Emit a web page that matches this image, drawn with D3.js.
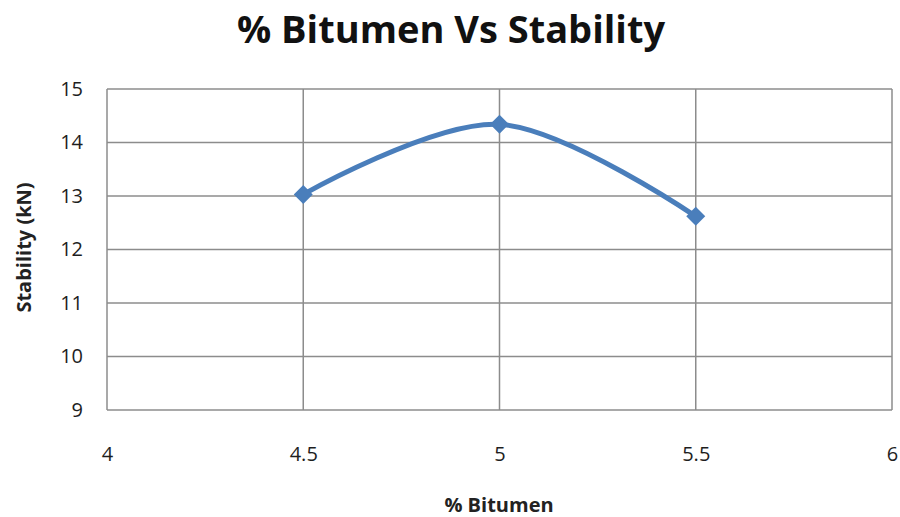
<!DOCTYPE html>
<html>
<head>
<meta charset="utf-8">
<script src="https://cdn.jsdelivr.net/npm/d3@7"></script>
<style>
  body { margin: 0; background: #fff; }
  svg { display: block; font-family: "Open Sans", "Liberation Sans", sans-serif; }
</style>
</head>
<body>
<svg id="chart" width="900" height="517"></svg>
<script>
// Marshall test: bitumen content against stability
const bitumenPct = [4.5, 5, 5.5];
const stabilityKN = [13.03, 14.34, 12.62];
const xTicks = [4, 4.5, 5, 5.5, 6];
const yTicks = [9, 10, 11, 12, 13, 14, 15];

const svg = d3.select("#chart");
const W = 900, H = 517;
const m = { left: 107, right: 8, top: 89, bottom: 107 };

const x = d3.scaleLinear().domain([4, 6]).range([m.left, W - m.right]);
const y = d3.scaleLinear().domain([9, 15]).range([H - m.bottom, m.top]);

const grid = "#8c8c8c";

// gridlines
svg.append("g").selectAll("line").data(xTicks).join("line")
  .attr("x1", d => x(d)).attr("x2", d => x(d))
  .attr("y1", y(15)).attr("y2", y(9))
  .attr("stroke", grid).attr("stroke-width", 1.5);
svg.append("g").selectAll("line").data(yTicks).join("line")
  .attr("x1", x(4)).attr("x2", x(6))
  .attr("y1", d => y(d)).attr("y2", d => y(d))
  .attr("stroke", grid).attr("stroke-width", 1.5);

// axes (labels only)
const xAxis = svg.append("g")
  .attr("transform", `translate(0,${y(9)})`)
  .call(d3.axisBottom(x).tickValues(xTicks).tickSize(0).tickPadding(36).tickFormat(d3.format("")));
const yAxis = svg.append("g")
  .attr("transform", `translate(${x(4)},0)`)
  .call(d3.axisLeft(y).tickValues(yTicks).tickSize(0).tickPadding(24).tickFormat(d3.format("")));
[xAxis, yAxis].forEach(a => {
  a.select(".domain").remove();
  a.selectAll("text").attr("font-size", 20).attr("font-weight", 500).attr("fill", "#1e1e1e")
    .attr("font-family", "\"Open Sans\", sans-serif");
});
xAxis.selectAll("text").attr("dy", 0).attr("y", 51);

// smoothed series line
const pts = bitumenPct.map((b, i) => [b, stabilityKN[i]]);
svg.append("path")
  .datum(pts)
  .attr("fill", "none")
  .attr("stroke", "#4a7ebb")
  .attr("stroke-width", 5)
  .attr("stroke-linejoin", "round")
  .attr("d", d3.line().x(d => x(d[0])).y(d => y(d[1])).curve(d3.curveCatmullRom.alpha(0)));

// diamond markers
svg.append("g").selectAll("path").data(pts).join("path")
  .attr("transform", d => `translate(${x(d[0])},${y(d[1])})`)
  .attr("d", d3.symbol(d3.symbolDiamond2, 230)())
  .attr("fill", "#4a7ebb");

// titles
svg.append("text")
  .attr("x", 451).attr("y", 43)
  .attr("text-anchor", "middle")
  .attr("font-size", 38).attr("font-weight", "bold").attr("fill", "#111")
  .text("% Bitumen Vs Stability");

svg.append("text")
  .attr("x", 499).attr("y", 512)
  .attr("text-anchor", "middle")
  .attr("font-size", 20).attr("font-weight", "bold").attr("fill", "#222")
  .text("% Bitumen");

svg.append("text")
  .attr("transform", `translate(31,${y(12) - 2}) rotate(-90)`)
  .attr("text-anchor", "middle")
  .attr("font-size", 20).attr("font-weight", "bold").attr("fill", "#222")
  .text("Stability (kN)");
</script>
</body>
</html>
